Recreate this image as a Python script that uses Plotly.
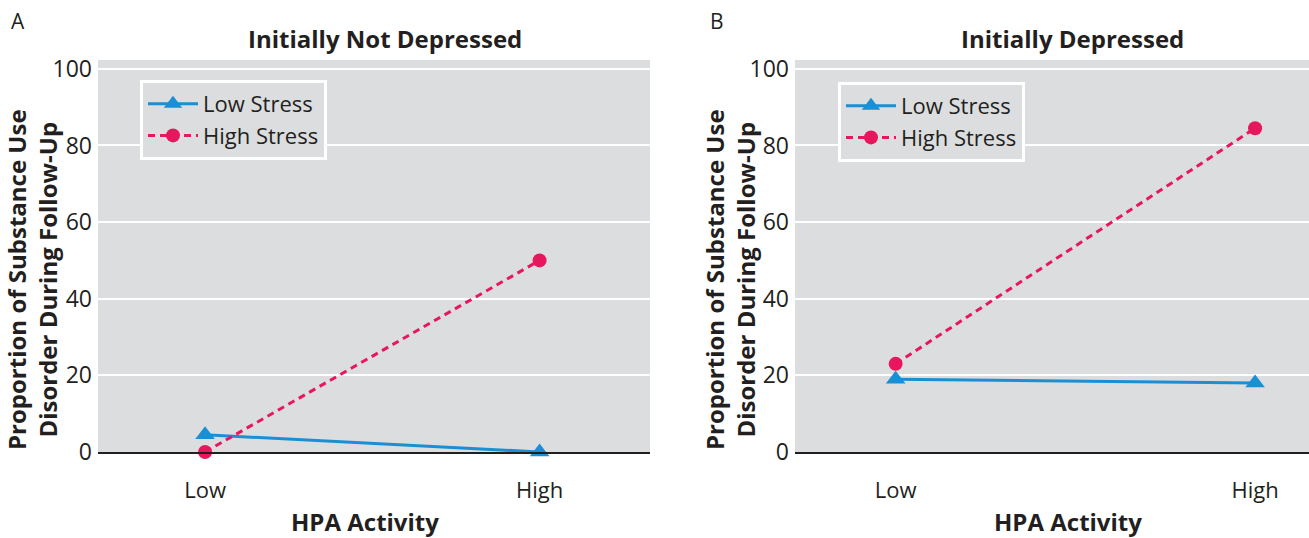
import plotly.graph_objects as go

categories = ["Low", "High"]
x_pos = [0, 1]
panels = ["Initially Not Depressed", "Initially Depressed"]
panel_letters = ["A", "B"]
low_stress_A = [4.5, 0]
high_stress_A = [0, 50]
low_stress_B = [19, 18]
high_stress_B = [23, 84.5]
y_ticks = [0, 20, 40, 60, 80, 100]

W, H = 1309, 538
BLUE = "#1A8FD3"
PINK = "#E8175D"
BG = "#DCDDDF"
FONT = "Open Sans"
TXT = "#231f20"

def px_x(p):
    return p / W

def px_y(p):
    return (H - p) / H

fig = go.Figure()

def add_panel(low, high, xa, ya, legend):
    fig.add_trace(go.Scatter(
        x=x_pos, y=low, name="Low Stress", mode="lines+markers",
        line=dict(color=BLUE, width=3),
        marker=dict(symbol="triangle-up", size=17, color=BLUE),
        xaxis=xa, yaxis=ya, legend=legend, cliponaxis=False))
    fig.add_trace(go.Scatter(
        x=x_pos, y=high, name="High Stress", mode="lines+markers",
        line=dict(color=PINK, width=3, dash="7px,5px"),
        marker=dict(symbol="circle", size=14, color=PINK),
        xaxis=xa, yaxis=ya, legend=legend, cliponaxis=False))

add_panel(low_stress_A, high_stress_A, "x", "y", "legend")
add_panel(low_stress_B, high_stress_B, "x2", "y2", "legend2")

yax = dict(range=[0, 102.3], tickvals=y_ticks, showgrid=True, gridcolor="white",
           gridwidth=2, zeroline=False, showline=False, ticks="",
           tickfont=dict(family=FONT, size=23, color=TXT), ticklabelstandoff=5,
           domain=[px_y(452), px_y(60)], fixedrange=True, automargin=False)
xax_common = dict(tickvals=x_pos, ticktext=categories, showgrid=False, zeroline=False,
                  showline=True, linecolor=TXT, linewidth=2, ticks="",
                  tickfont=dict(family=FONT, size=22, color=TXT),
                  ticklabelstandoff=18, automargin=False, fixedrange=True)

leg = dict(xanchor="left", yanchor="top",
           bgcolor=BG, bordercolor="white", borderwidth=3,
           font=dict(family=FONT, size=22, color=TXT),
           itemwidth=50, tracegroupgap=0)

fig.update_layout(
    width=W, height=H,
    margin=dict(l=0, r=0, t=0, b=0, autoexpand=False),
    paper_bgcolor="white",
    plot_bgcolor=BG,
    showlegend=True,
    xaxis=dict(domain=[px_x(98), px_x(650)], range=[-0.32, 1.33], anchor="y", **xax_common),
    xaxis2=dict(domain=[px_x(795), 1.0], range=[-0.28, 1.15], anchor="y2", **xax_common),
    yaxis=dict(anchor="x", **yax),
    yaxis2=dict(anchor="x2", **yax),
    legend=dict(x=px_x(140), y=px_y(80), **leg),
    legend2=dict(x=px_x(838), y=px_y(82), **leg),
)

ann = []
title_x = [385, 1072]
letter_x = [18, 717]
ytitle_x = [32, 730]
xtitle_x = [365, 1068]
for i in range(2):
    ann.append(dict(text="<b>" + panels[i] + "</b>", x=px_x(title_x[i]), y=px_y(38),
                    xanchor="center", yanchor="middle",
                    xref="paper", yref="paper", showarrow=False,
                    font=dict(family=FONT, size=24, color=TXT)))
    ann.append(dict(text=panel_letters[i], x=px_x(letter_x[i]), y=px_y(21),
                    xanchor="center", yanchor="middle",
                    xref="paper", yref="paper", showarrow=False,
                    font=dict(family=FONT, size=21, color=TXT)))
    ann.append(dict(text="<b>Proportion of Substance Use<br>Disorder During Follow-Up</b>",
                    x=px_x(ytitle_x[i]), y=px_y(280), xref="paper", yref="paper",
                    xanchor="center", yanchor="middle",
                    showarrow=False, textangle=-90,
                    font=dict(family=FONT, size=24, color=TXT)))
    ann.append(dict(text="<b>HPA Activity</b>", x=px_x(xtitle_x[i]), y=px_y(521),
                    xanchor="center", yanchor="middle",
                    xref="paper", yref="paper", showarrow=False,
                    font=dict(family=FONT, size=24, color=TXT)))
fig.update_layout(annotations=ann)

fig.write_html("out.html", config={"displayModeBar": False},
               post_script="document.body.style.margin='0';document.body.style.overflow='hidden';")
